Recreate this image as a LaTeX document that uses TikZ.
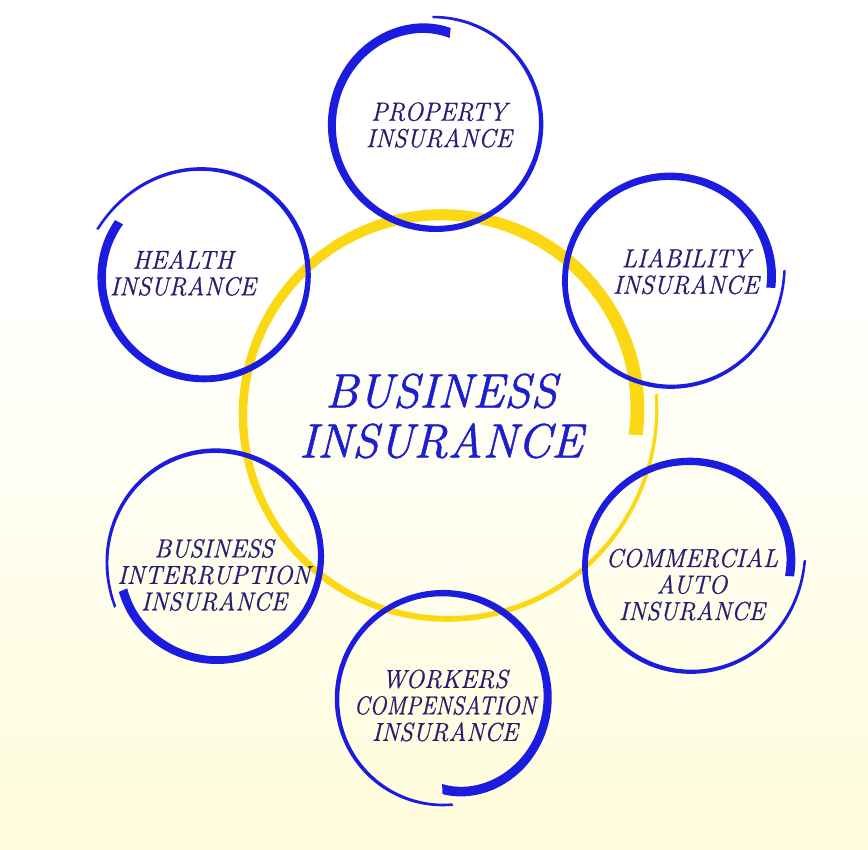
\documentclass[tikz,border=0pt]{standalone}
\usepackage{fontspec}
\newfontfamily\lblfam{Latin Modern Roman}[FakeStretch=0.95, FakeBold=0.8]
\newfontfamily\narrowfam{Latin Modern Roman}[FakeStretch=0.86, FakeBold=0.8]
\newfontfamily\ttlfam{Latin Modern Roman}[FakeBold=1.2]
\definecolor{ringyellow}{HTML}{FCD814}
\definecolor{strokeblue}{HTML}{1C1CE0}
\definecolor{labelnavy}{HTML}{281E6E}
\definecolor{titleblue}{HTML}{1E1ECC}
\definecolor{bgyellow}{HTML}{FFFDDD}
\pgfdeclareverticalshading{bgshade}{100bp}{color(0bp)=(bgyellow); color(28bp)=(bgyellow); color(58bp)=(white); color(100bp)=(white)}
\pgfkeys{/brush/.cd,
  cx/.store in=\bcx, cy/.store in=\bcy,
  a0/.store in=\bao, a1/.store in=\bai,
  R/.store in=\bR, A/.store in=\bA, B/.store in=\bB, L/.store in=\bL,
  w0/.store in=\bwo, w1/.store in=\bwi, k/.store in=\bk,
  k=10, A=0, B=0, L=0}
\newcommand\brushring[2]{%
  \pgfkeys{/brush/.cd,A=0,B=0,L=0,#2}%
  \fill[#1] plot[variable=\t, domain=0:1, samples=220]
    ({\bcx+(\bR+\bL*\t+\bA*exp(-\bk*\t)+\bB*exp(-\bk*(1-\t))+0.5*(\bwo+(\bwi-\bwo)*\t))*cos(\bao+(\bai-\bao)*\t)},
     {\bcy+(\bR+\bL*\t+\bA*exp(-\bk*\t)+\bB*exp(-\bk*(1-\t))+0.5*(\bwo+(\bwi-\bwo)*\t))*sin(\bao+(\bai-\bao)*\t)})
    -- plot[variable=\t, domain=1:0, samples=220]
    ({\bcx+(\bR+\bL*\t+\bA*exp(-\bk*\t)+\bB*exp(-\bk*(1-\t))-0.5*(\bwo+(\bwi-\bwo)*\t))*cos(\bao+(\bai-\bao)*\t)},
     {\bcy+(\bR+\bL*\t+\bA*exp(-\bk*\t)+\bB*exp(-\bk*(1-\t))-0.5*(\bwo+(\bwi-\bwo)*\t))*sin(\bao+(\bai-\bao)*\t)})
    -- cycle;}
\newcommand\smallfnt{\lblfam\fontsize{26}{26.5}\selectfont\itshape}
\newcommand\titlefnt{\ttlfam\fontsize{48}{50}\selectfont\itshape}
\tikzset{
  smalltext/.style={font=\smallfnt, text=labelnavy, align=center, inner sep=0pt},
  titletext/.style={font=\titlefnt, text=titleblue, align=center, inner sep=0pt},
  bluestroke/.style={fill=strokeblue},
  yellowstroke/.style={fill=ringyellow}
}
\begin{document}
\begin{tikzpicture}[x=1pt,y=1pt]
  \useasboundingbox (0,0) rectangle (868,850);
  \shade[shading=bgshade] (0,0) rectangle (868,850);
  % central yellow ring
  \brushring{yellowstroke}{cx=445, cy=438, a0=5, a1=-367, R=212, L=-20, w0=3, w1=14}
  % blue rings
  \brushring{bluestroke}{cx=436, cy=726, a0=92, a1=-279, R=105, A=2, B=-13, w0=2.5, w1=10}
  \brushring{bluestroke}{cx=670, cy=569, a0=5.5, a1=-364, R=105, A=10, B=-4, w0=2.5, w1=9}
  \brushring{bluestroke}{cx=204, cy=575, a0=157, a1=-212, R=104, A=12, B=-4, w0=2.5, w1=9}
  \brushring{bluestroke}{cx=690, cy=284, a0=3, a1=-366, R=105, A=10, B=-5, w0=2.5, w1=9}
  \brushring{bluestroke}{cx=216, cy=294, a0=207, a1=-160, R=105, A=8, B=-6, w0=2.5, w1=9}
  \brushring{bluestroke}{cx=443, cy=151, a0=-84.6, a1=-450.6, R=106, B=-16, w0=2.5, w1=10}
  % texts
  \node[titletext] (core) at (441,434) {BUSINESS\\INSURANCE};
  \node[smalltext] (property) at (439,725) {PROPERTY\\INSURANCE};
  \node[smalltext] (liability) at (686,578.5) {LIABILITY\\INSURANCE};
  \node[smalltext] (health) at (183,577) {HEALTH\\INSURANCE};
  \node[smalltext] (bizint) at (214,275) {BUSINESS\\INTERRUPTION\\INSURANCE};
  \node[smalltext] (commercial) at (692,265.5) {COMMERCIAL\\AUTO\\INSURANCE};
  \node[smalltext] (workers) at (445,144.5) {WORKERS\\{\narrowfam\itshape COMPENSATION}\\INSURANCE};
\end{tikzpicture}
\end{document}
